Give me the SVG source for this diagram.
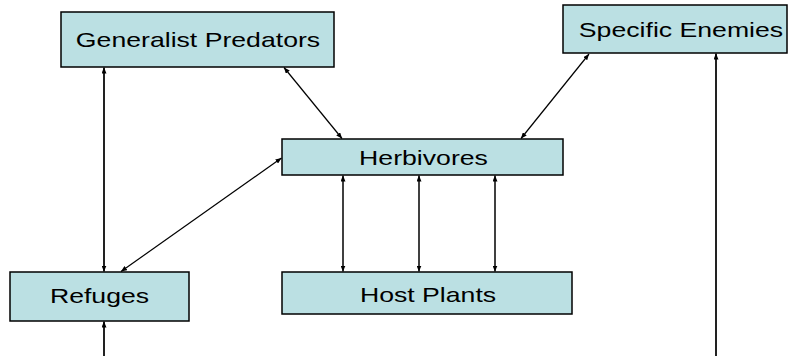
<svg xmlns="http://www.w3.org/2000/svg" width="791" height="356" viewBox="0 0 791 356">
  <style>
    .box { fill: #bbe0e3; stroke: #000; stroke-width: 1.5; }
    .lbl { font-family: "Liberation Sans", Arial, sans-serif; font-size: 20px; fill: #000; text-anchor: middle; }
    .link { fill: none; stroke: #000; stroke-width: 1.2; }
    .thick { stroke: #222; stroke-width: 2; }
    .mid { stroke-width: 1.5; }
  </style>
  <defs>
    <marker id="arrow" viewBox="0 0 6 5" refX="6" refY="2.5" markerWidth="6" markerHeight="5" markerUnits="userSpaceOnUse" orient="auto-start-reverse">
      <path d="M0,0 L6,2.5 L0,5 z" fill="#000"/>
    </marker>
  </defs>

  <rect width="791" height="356" fill="#fff"/>

  <!-- connectors -->
  <g id="connectors">
    <path class="link thick" d="M104,67.5 L104,271.5" marker-start="url(#arrow)" marker-end="url(#arrow)"/>
    <path class="link" d="M284,67.5 L342,138.5" marker-start="url(#arrow)" marker-end="url(#arrow)"/>
    <path class="link" d="M589,54 L521,138.5" marker-start="url(#arrow)" marker-end="url(#arrow)"/>
    <path class="link" d="M281.5,158 L121,271.5" marker-start="url(#arrow)" marker-end="url(#arrow)"/>
    <path class="link mid" d="M343,175.5 L343,271.5" marker-start="url(#arrow)" marker-end="url(#arrow)"/>
    <path class="link mid" d="M419,175.5 L419,271.5" marker-start="url(#arrow)" marker-end="url(#arrow)"/>
    <path class="link mid" d="M495,175.5 L495,271.5" marker-start="url(#arrow)" marker-end="url(#arrow)"/>
    <path class="link thick" d="M104,356 L104,321.5" marker-end="url(#arrow)"/>
    <path class="link thick" d="M716,356 L716,53.5" marker-end="url(#arrow)"/>
  </g>

  <g id="generalist-predators">
    <rect class="box" x="61" y="12" width="273" height="55"/>
    <text class="lbl" transform="translate(198,47) scale(1.333,1)">Generalist Predators</text>
  </g>

  <g id="specific-enemies">
    <rect class="box" x="563" y="5" width="224" height="48"/>
    <text class="lbl" transform="translate(681,37) scale(1.333,1)">Specific Enemies</text>
  </g>

  <g id="herbivores">
    <rect class="box" x="282" y="139" width="281" height="36"/>
    <text class="lbl" transform="translate(423.5,165) scale(1.333,1)">Herbivores</text>
  </g>

  <g id="refuges">
    <rect class="box" x="10" y="272" width="179" height="49"/>
    <text class="lbl" transform="translate(99.5,303) scale(1.333,1)">Refuges</text>
  </g>

  <g id="host-plants">
    <rect class="box" x="282" y="272" width="290" height="42"/>
    <text class="lbl" transform="translate(428,302) scale(1.333,1)">Host Plants</text>
  </g>
</svg>
